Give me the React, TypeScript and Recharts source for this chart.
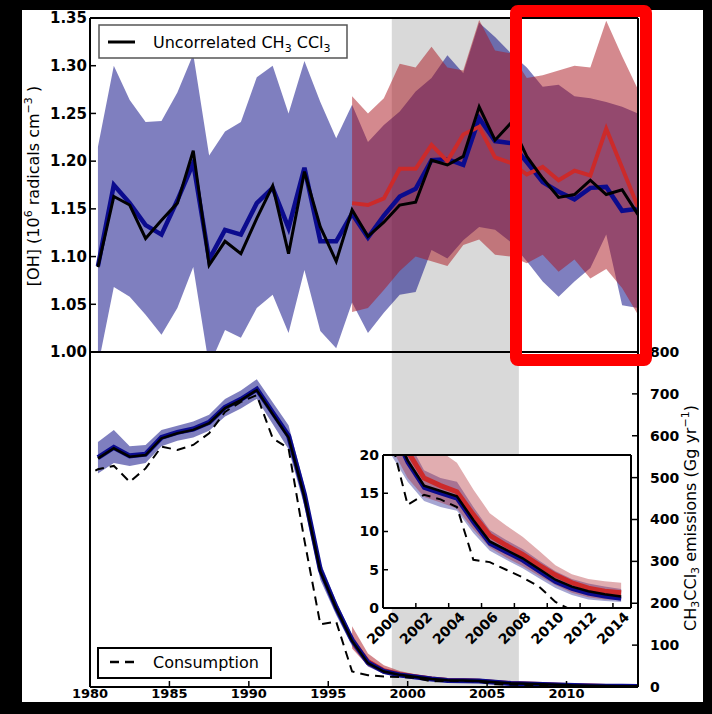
import React from "react";
import { ComposedChart, Area, Line, XAxis, YAxis, ReferenceArea } from "recharts";

// mid-year points
const YEARS = [
  1980.5, 1981.5, 1982.5, 1983.5, 1984.5, 1985.5, 1986.5, 1987.5, 1988.5, 1989.5,
  1990.5, 1991.5, 1992.5, 1993.5, 1994.5, 1995.5, 1996.5, 1997.5, 1998.5, 1999.5,
  2000.5, 2001.5, 2002.5, 2003.5, 2004.5, 2005.5, 2006.5, 2007.5, 2008.5, 2009.5,
  2010.5, 2011.5, 2012.5, 2013.5, 2014.5,
];
const RED_START = 16; // red series start at 1996.5

// [OH] top panel
const OH_BLUE = [
  1.09, 1.175, 1.156, 1.133, 1.123, 1.159, 1.198, 1.097, 1.128, 1.123,
  1.156, 1.172, 1.13, 1.193, 1.116, 1.116, 1.145, 1.12, 1.143, 1.163,
  1.171, 1.201, 1.202, 1.196, 1.245, 1.221, 1.219, 1.199, 1.178, 1.168,
  1.16, 1.172, 1.173, 1.148, 1.15,
];
const OH_BLACK = [
  1.089, 1.163, 1.154, 1.119, 1.138, 1.156, 1.211, 1.091, 1.116, 1.103,
  1.14, 1.174, 1.103, 1.189, 1.131, 1.095, 1.149, 1.121, 1.136, 1.154,
  1.157, 1.201, 1.196, 1.205, 1.257, 1.222, 1.24, 1.205, 1.182, 1.162,
  1.165, 1.18, 1.165, 1.17, 1.144,
];
const OH_BLUE_LO = [
  0.985, 1.068, 1.058, 1.039, 1.018, 1.046, 1.089, 0.985, 1.023, 1.015,
  1.046, 1.06, 1.02, 1.086, 1.022, 1.004, 1.052, 1.02, 1.041, 1.06,
  1.063, 1.107, 1.098, 1.117, 1.131, 1.128, 1.115, 1.095, 1.074, 1.058,
  1.074, 1.088, 1.123, 1.049, 1.046,
];
const OH_BLUE_HI = [
  1.215, 1.3, 1.264, 1.241, 1.242, 1.272, 1.312, 1.206, 1.231, 1.241,
  1.288, 1.3, 1.25, 1.305, 1.262, 1.224, 1.259, 1.22, 1.238, 1.252,
  1.273, 1.287, 1.311, 1.292, 1.345, 1.33, 1.313, 1.298, 1.278, 1.28,
  1.268, 1.266, 1.262, 1.257, 1.25,
];
const OH_RED = [
  1.156, 1.154, 1.161, 1.192, 1.192, 1.217, 1.2, 1.228, 1.236, 1.204,
  1.198, 1.186, 1.194, 1.18, 1.19, 1.185, 1.234, 1.193, 1.152,
];
const OH_RED_LO = [
  1.042, 1.046, 1.065, 1.085, 1.1, 1.095, 1.09, 1.112, 1.118, 1.102,
  1.1, 1.093, 1.102, 1.084, 1.097, 1.077, 1.087, 1.067, 1.039,
];
const OH_RED_HI = [
  1.268, 1.25, 1.266, 1.302, 1.298, 1.32, 1.298, 1.295, 1.348, 1.316,
  1.313, 1.287, 1.29, 1.295, 1.3, 1.298, 1.347, 1.31, 1.275,
];

// CH3CCl3 emissions, Gg/yr
const EM_BLACK = [
  546, 570, 550, 554, 594, 606, 614, 630, 666, 685,
  709, 652, 596, 454, 276, 188, 110, 57, 37, 29,
  24, 19.3, 16, 15.3, 14.6, 11.5, 8.7, 7.6, 6.5, 5.1,
  3.7, 2.8, 2.2, 1.8, 1.5,
];
const EM_BLUE = [
  548, 572, 552, 556, 596, 608, 616, 632, 668, 687,
  711, 655, 600, 460, 280, 190, 112, 58, 37, 28.8,
  23.7, 19, 15.7, 15, 14.3, 11.2, 8.4, 7.3, 6.2, 4.8,
  3.4, 2.5, 1.9, 1.5, 1.2,
];
const EM_BLUE_LO = [
  510, 535, 528, 535, 575, 588, 596, 612, 646, 665,
  688, 628, 568, 432, 256, 172, 98, 49, 31, 24,
  20, 16.5, 14, 13.2, 12.7, 9.8, 7.5, 6.3, 5.2, 3.9,
  2.6, 1.7, 1.1, 0.9, 0.8,
];
const EM_BLUE_HI = [
  585, 614, 575, 578, 614, 624, 634, 650, 688, 708,
  735, 680, 625, 480, 298, 205, 124, 67, 44, 34,
  28, 22, 18, 17, 16.5, 13.2, 10.2, 8.9, 7.7, 6.2,
  4.8, 3.8, 3.2, 2.8, 2.5,
];
const EM_RED = [
  112, 62, 40, 31, 25.5, 20.5, 17, 16, 15.2, 12.2,
  9.5, 8.2, 7, 5.6, 4.3, 3.3, 2.6, 2.2, 2,
];
const EM_RED_LO = [
  92, 50, 32, 25, 21, 17, 14.5, 13.8, 13, 10.3,
  7.9, 6.6, 5.5, 4.2, 3, 2, 1.4, 1.1, 1,
];
const EM_RED_HI = [
  145, 80, 52, 38, 30, 24.5, 21.5, 20.5, 19, 15.5,
  12.4, 10.8, 9.3, 7.5, 5.6, 4.4, 3.8, 3.5, 3.3,
];
const CONS_YEARS = [1979.5, ...YEARS];
const CONSUMPTION = [
  500, 520, 528, 490, 522, 574, 566, 578, 606, 657,
  681, 697, 594, 570, 350, 150, 156, 37, 28, 25,
  24, 22, 13.5, 14.8, 14.2, 13.2, 6.3, 6, 5, 4,
  2.8, 0.8, -0.3, -0.5, -0.5, -0.5,
];

const X_TICKS = [1980, 1985, 1990, 1995, 2000, 2005, 2010];
const OH_TICKS = [1.0, 1.05, 1.1, 1.15, 1.2, 1.25, 1.3, 1.35];
const EM_TICKS = [0, 100, 200, 300, 400, 500, 600, 700, 800];
const INSET_X_TICKS = [2000, 2002, 2004, 2006, 2008, 2010, 2012, 2014];
const INSET_Y_TICKS = [0, 5, 10, 15, 20];
const SHADE = [1999, 2007];

const FONT = "DejaVu Sans";
const BLUE = "#0b0b8e";
const RED = "#cc2a2a";
const BAND_BLUE = "#000080";
const BAND_RED = "#aa141e";

const topData = YEARS.map((x, i) => {
  const j = i - RED_START;
  return {
    x,
    blue: OH_BLUE[i],
    black: OH_BLACK[i],
    blueBand: [OH_BLUE_LO[i], OH_BLUE_HI[i]],
    red: j >= 0 ? OH_RED[j] : null,
    redBand: j >= 0 ? [OH_RED_LO[j], OH_RED_HI[j]] : null,
  };
});

const emData = CONS_YEARS.map((x, c) => {
  const i = c - 1;
  const j = i - RED_START;
  return {
    x,
    cons: CONSUMPTION[c],
    blue: i >= 0 ? EM_BLUE[i] : null,
    black: i >= 0 ? EM_BLACK[i] : null,
    blueBand: i >= 0 ? [EM_BLUE_LO[i], EM_BLUE_HI[i]] : null,
    red: j >= 0 ? EM_RED[j] : null,
    redBand: j >= 0 ? [EM_RED_LO[j], EM_RED_HI[j]] : null,
  };
});

const tickFont = { fill: "#000", fontSize: 15, fontWeight: "bold", fontFamily: FONT };
const axisLine = { stroke: "#000", strokeWidth: 2 };
const tickLine = { stroke: "#000", strokeWidth: 1.5 };
const chartStyle: React.CSSProperties = { position: "absolute", left: -22, top: -10 };

const InsetXTick = (props: any) => {
  const { x, y, payload } = props;
  return (
    <text
      transform={`translate(${x},${y + 20}) rotate(-45)`}
      textAnchor="middle"
      dominantBaseline="central"
      {...tickFont}
      fontSize={14}
    >
      {payload.value}
    </text>
  );
};

const App: React.FC = () => {
  return (
    <div style={{ position: "absolute", left: 0, top: 0, width: 712, height: 714, background: "#000", overflow: "hidden" }}>
      <div style={{ position: "absolute", left: 22, top: 10, width: 681, height: 692, background: "#fff", overflow: "hidden" }}>
        {/* top panel: OH */}
        <ComposedChart width={712} height={714} data={topData} style={chartStyle}
          margin={{ top: 8, right: 64, bottom: 352, left: 30 }}>
          <XAxis type="number" dataKey="x" domain={[1980, 2014.5]} ticks={X_TICKS} allowDataOverflow
            height={10} tick={false} axisLine={axisLine} tickLine={tickLine} tickSize={-6} />
          <XAxis xAxisId="top" orientation="top" type="number" dataKey="x" domain={[1980, 2014.5]} ticks={X_TICKS}
            allowDataOverflow height={10} tick={false} axisLine={axisLine} tickLine={tickLine} tickSize={-6} />
          <YAxis domain={[1, 1.35]} ticks={OH_TICKS} allowDataOverflow width={60} tick={tickFont}
            tickFormatter={(v: number) => v.toFixed(2)} axisLine={axisLine} tickLine={tickLine} tickSize={-6} tickMargin={9} />
          <YAxis yAxisId="r" orientation="right" domain={[1, 1.35]} ticks={OH_TICKS} allowDataOverflow width={10} tick={false}
            axisLine={axisLine} tickLine={tickLine} tickSize={-6} />
          <ReferenceArea x1={SHADE[0]} x2={SHADE[1]} fill="#d9d9d9" fillOpacity={1} stroke="none" />
          <Area type="linear" dataKey="blueBand" stroke="none" fill={BAND_BLUE} fillOpacity={0.5} isAnimationActive={false} activeDot={false} />
          <Area type="linear" dataKey="redBand" stroke="none" fill={BAND_RED} fillOpacity={0.5} isAnimationActive={false} activeDot={false} />
          <Line type="linear" dataKey="blue" stroke={BLUE} strokeWidth={4.5} dot={false} activeDot={false} isAnimationActive={false} />
          <Line type="linear" dataKey="red" stroke={RED} strokeWidth={4} dot={false} activeDot={false} isAnimationActive={false} />
          <Line type="linear" dataKey="black" stroke="#000" strokeWidth={3} dot={false} activeDot={false} isAnimationActive={false} />
        </ComposedChart>

        {/* bottom panel: emissions */}
        <ComposedChart width={712} height={714} data={emData} style={chartStyle}
          margin={{ top: 342, right: 14, bottom: 7, left: 80 }}>
          <XAxis type="number" dataKey="x" domain={[1980, 2014.5]} ticks={X_TICKS} allowDataOverflow
            height={20} tick={{ ...tickFont, fontSize: 13 }} axisLine={axisLine} tickLine={tickLine} tickSize={-6} tickMargin={8} />
          <XAxis xAxisId="top" orientation="top" type="number" dataKey="x" domain={[1980, 2014.5]} ticks={X_TICKS}
            allowDataOverflow height={10} tick={false} axisLine={axisLine} tickLine={tickLine} tickSize={-6} />
          <YAxis domain={[0, 800]} ticks={EM_TICKS} allowDataOverflow width={10} tick={false} tickLine={false} axisLine={axisLine} />
          <YAxis yAxisId="r" orientation="right" domain={[0, 800]} ticks={EM_TICKS} allowDataOverflow width={60}
            tick={{ ...tickFont, fontSize: 14 }} axisLine={axisLine} tickLine={tickLine} tickSize={-6} tickMargin={18} />
          <ReferenceArea x1={SHADE[0]} x2={SHADE[1]} fill="#d9d9d9" fillOpacity={1} stroke="none" />
          <Area type="linear" dataKey="blueBand" stroke="none" fill={BAND_BLUE} fillOpacity={0.5} isAnimationActive={false} activeDot={false} />
          <Area type="linear" dataKey="redBand" stroke="none" fill={BAND_RED} fillOpacity={0.5} isAnimationActive={false} activeDot={false} />
          <Line type="linear" dataKey="red" stroke={RED} strokeWidth={4} dot={false} activeDot={false} isAnimationActive={false} />
          <Line type="linear" dataKey="blue" stroke={BLUE} strokeWidth={5} dot={false} activeDot={false} isAnimationActive={false} />
          <Line type="linear" dataKey="black" stroke="#000" strokeWidth={2.5} dot={false} activeDot={false} isAnimationActive={false} />
          <Line type="linear" dataKey="cons" stroke="#000" strokeWidth={2} strokeDasharray="9 6" dot={false} activeDot={false} isAnimationActive={false} />
        </ComposedChart>

        {/* inset background */}
        <div style={{ position: "absolute", left: 383 - 22, top: 455 - 10, width: 248, height: 153, background: "#fff" }} />

        {/* inset: 2000-2014 zoom */}
        <ComposedChart width={712} height={714} data={emData} style={chartStyle}
          margin={{ top: 450, right: 76, bottom: 66, left: 343 }}>
          <XAxis type="number" dataKey="x" domain={[2000, 2015.1]} ticks={INSET_X_TICKS} interval={0} allowDataOverflow
            height={40} tick={<InsetXTick />} axisLine={axisLine} tickLine={tickLine} tickSize={-5} tickMargin={5} />
          <XAxis xAxisId="top" orientation="top" type="number" dataKey="x" domain={[2000, 2015.1]} ticks={INSET_X_TICKS}
            interval={0} allowDataOverflow height={5} tick={false} axisLine={axisLine} tickLine={tickLine} tickSize={-5} />
          <YAxis domain={[0, 20]} ticks={INSET_Y_TICKS} interval={0} allowDataOverflow width={40} tick={{ ...tickFont, fontSize: 14 }}
            axisLine={axisLine} tickLine={tickLine} tickSize={-5} tickMargin={9} />
          <YAxis yAxisId="r" orientation="right" domain={[0, 20]} ticks={INSET_Y_TICKS} interval={0} allowDataOverflow width={5} tick={false}
            axisLine={axisLine} tickLine={tickLine} tickSize={-5} />
          <Area type="linear" dataKey="blueBand" stroke="none" fill={BAND_BLUE} fillOpacity={0.35} isAnimationActive={false} activeDot={false} />
          <Area type="linear" dataKey="redBand" stroke="none" fill={BAND_RED} fillOpacity={0.35} isAnimationActive={false} activeDot={false} />
          <Line type="linear" dataKey="red" stroke={RED} strokeWidth={5} dot={false} activeDot={false} isAnimationActive={false} />
          <Line type="linear" dataKey="blue" stroke={BLUE} strokeWidth={4} dot={false} activeDot={false} isAnimationActive={false} />
          <Line type="linear" dataKey="black" stroke="#000" strokeWidth={2.5} dot={false} activeDot={false} isAnimationActive={false} />
          <Line type="linear" dataKey="cons" stroke="#000" strokeWidth={2} strokeDasharray="9 6" dot={false} activeDot={false} isAnimationActive={false} />
        </ComposedChart>

        {/* axis titles and legends */}
        <svg width={712} height={714} style={{ ...chartStyle, pointerEvents: "none" }} fontFamily={FONT}>
          <text transform="translate(39,186) rotate(-90)" textAnchor="middle" fontSize={16} fill="#000">
            [OH] (10<tspan dy={-7} fontSize={11}>6</tspan>
            <tspan dy={7}>  radicals cm</tspan>
            <tspan dy={-7} fontSize={11}>−3</tspan>
            <tspan dy={7}> )</tspan>
          </text>
          <text transform="translate(696,518) rotate(-90)" textAnchor="middle" fontSize={16} fill="#000">
            CH<tspan dy={3} fontSize={11}>3</tspan>
            <tspan dy={-3}>CCl</tspan>
            <tspan dy={3} fontSize={11}>3</tspan>
            <tspan dy={-3}> emissions (Gg yr</tspan>
            <tspan dy={-7} fontSize={11}>−1</tspan>
            <tspan dy={7}>)</tspan>
          </text>

          <rect x={99} y={25} width={248} height={33} fill="#fff" stroke="#555" strokeWidth={1.5} />
          <line x1={108} x2={135} y1={42} y2={42} stroke="#000" strokeWidth={3} />
          <text x={153} y={48} fontSize={16} fill="#000">
            Uncorrelated CH<tspan dy={4} fontSize={11}>3</tspan>
            <tspan dy={-4}> CCl</tspan>
            <tspan dy={4} fontSize={11}>3</tspan>
          </text>

          <rect x={98} y={648} width={173} height={30} fill="#fff" stroke="#000" strokeWidth={2} />
          <line x1={110} x2={136} y1={662} y2={662} stroke="#000" strokeWidth={2.5} strokeDasharray="9 6" />
          <text x={153} y={668} fontSize={16} fill="#000">Consumption</text>
        </svg>
      </div>

      {/* highlight frame */}
      <div style={{ position: "absolute", left: 510, top: 5, width: 142, height: 361, border: "12px solid #ff0000", borderRadius: 8, boxSizing: "border-box" }} />
    </div>
  );
};

export default App;
